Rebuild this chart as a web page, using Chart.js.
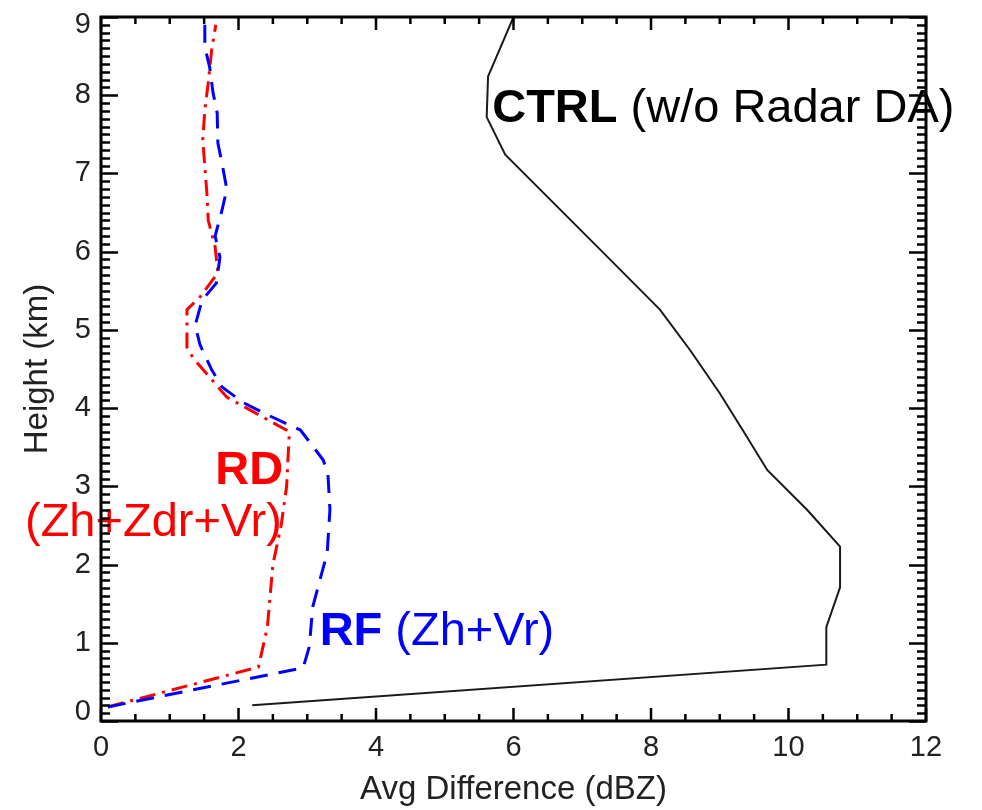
<!DOCTYPE html>
<html>
<head>
<meta charset="utf-8">
<script src="https://cdn.jsdelivr.net/npm/chart.js@4/dist/chart.umd.min.js"></script>
<style>
  html, body { margin: 0; padding: 0; background: #fff; }
</style>
</head>
<body>
<canvas id="c" width="982" height="810"></canvas>
<script>
// ── DATA ────────────────────────────────────────────────────
// CTRL (w/o radar DA): avg difference (dBZ) vs height (km)
const ctrlDiff   = [2.2, 10.55, 10.55, 10.75, 10.75, 10.27, 9.69, 9.34, 9.0, 8.57, 8.13, 7.29, 5.88, 5.61, 5.63, 6.0];
const ctrlHeight = [0.2, 0.72, 1.2, 1.71, 2.23, 2.70, 3.21, 3.71, 4.19, 4.74, 5.26, 6.0, 7.24, 7.72, 8.24, 9.0];

// RF (Zh+Vr)
const rfDiff   = [0.1, 2.94, 3.03, 3.08, 3.29, 3.33, 3.30, 3.23, 2.9, 2.72, 2.36, 2.07, 1.76, 1.61, 1.44, 1.37, 1.47, 1.68, 1.73, 1.66, 1.76, 1.83, 1.76, 1.70, 1.69, 1.63, 1.58, 1.51, 1.51];
const rfHeight = [0.18, 0.68, 0.95, 1.46, 2.15, 2.70, 3.17, 3.34, 3.72, 3.79, 3.94, 4.07, 4.27, 4.49, 4.81, 5.06, 5.38, 5.6, 5.93, 6.2, 6.53, 6.8, 7.13, 7.39, 7.77, 8.03, 8.36, 8.62, 8.96];

// RD (Zh+Zdr+Vr)
const rdDiff   = [0.1, 2.29, 2.42, 2.5, 2.62, 2.7, 2.74, 2.57, 1.83, 1.34, 1.25, 1.25, 1.44, 1.70, 1.66, 1.56, 1.54, 1.48, 1.51, 1.56, 1.61, 1.67];
const rdHeight = [0.18, 0.69, 1.2, 2.0, 2.5, 3.0, 3.7, 3.78, 4.14, 4.64, 4.78, 5.26, 5.42, 5.73, 6.06, 6.4, 6.75, 7.43, 7.81, 8.16, 8.58, 8.9];

const xTicks = [0, 2, 4, 6, 8, 10, 12];
const yTicks = [0, 1, 2, 3, 4, 5, 6, 7, 8, 9];

const FONT = '"Liberation Sans", Arial, Helvetica, sans-serif';

// ── HELPERS ─────────────────────────────────────────────────
function pairs(xs, ys) {
  return xs.map((v, i) => ({ x: v, y: ys[i] }));
}

function drawParts(ctx, x, y, parts, align) {
  // parts: [[text, weight, color], ...]
  let total = 0;
  parts.forEach(p => { ctx.font = p[1] + ' 47px ' + FONT; total += ctx.measureText(p[0]).width; });
  let cx = align === 'right' ? x - total : x;
  ctx.textAlign = 'left';
  ctx.textBaseline = 'alphabetic';
  parts.forEach(p => {
    ctx.font = p[1] + ' 47px ' + FONT;
    ctx.fillStyle = p[2];
    ctx.fillText(p[0], cx, y);
    cx += ctx.measureText(p[0]).width;
  });
}

// ── PLUGIN: IDL style frame, inward ticks, annotations ──────
const idlFrame = {
  id: 'idlFrame',
  beforeDraw(chart) {
    // end labels sit inside the axis range in the original
    const items = chart.scales.y.getLabelItems();
    if (items && !items._nudged && items.length) {
      items[0].options.translation[1] -= 9;
      items[items.length - 1].options.translation[1] += 8;
      items._nudged = true;
    }
  },
  afterDraw(chart) {
    const { ctx, chartArea: a, scales: { x, y } } = chart;
    ctx.save();

    // annotations (value anchored)
    drawParts(ctx, x.getPixelForValue(5.69), y.getPixelForValue(7.66),
      [['CTRL', 'bold', '#000'], [' (w/o Radar DA)', 'normal', '#000']], 'left');
    drawParts(ctx, x.getPixelForValue(2.65), y.getPixelForValue(3.03),
      [['RD', 'bold', '#ff0000']], 'right');
    drawParts(ctx, x.getPixelForValue(2.63), y.getPixelForValue(2.37),
      [['(Zh+Zdr+Vr)', 'normal', '#ff0000']], 'right');
    drawParts(ctx, x.getPixelForValue(3.18), y.getPixelForValue(0.97),
      [['RF', 'bold', '#0000ff'], [' (Zh+Vr)', 'normal', '#0000ff']], 'left');

    // frame
    ctx.strokeStyle = '#000';
    ctx.lineWidth = 3;
    ctx.strokeRect(a.left, a.top, a.right - a.left, a.bottom - a.top);

    // inward ticks
    ctx.lineWidth = 2.5;
    ctx.beginPath();
    for (let i = 0; i <= 24; i++) {
      const v = i * 0.5;
      const px = x.getPixelForValue(v);
      const len = (i % 4 === 0) ? 13 : 7;
      ctx.moveTo(px, a.bottom); ctx.lineTo(px, a.bottom - len);
      ctx.moveTo(px, a.top);    ctx.lineTo(px, a.top + len);
    }
    for (let i = 0; i <= 90; i++) {
      const v = i / 10;
      const py = Math.round(y.getPixelForValue(v)) + 0.5;
      const len = (i % 10 === 0) ? 17 : 9;
      ctx.moveTo(a.left, py);  ctx.lineTo(a.left + len, py);
      ctx.moveTo(a.right, py); ctx.lineTo(a.right - len, py);
    }
    ctx.stroke();
    ctx.restore();
  }
};

// ── CHART ───────────────────────────────────────────────────
new Chart(document.getElementById('c'), {
  type: 'scatter',
  data: {
    datasets: [
      {
        label: 'CTRL (w/o Radar DA)',
        data: pairs(ctrlDiff, ctrlHeight),
        showLine: true, borderColor: '#1a1a1a', borderWidth: 2,
        pointRadius: 0, tension: 0
      },
      {
        label: 'RF (Zh+Vr)',
        data: pairs(rfDiff, rfHeight),
        showLine: true, borderColor: '#0000ff', borderWidth: 3,
        borderDash: [18, 11], pointRadius: 0, tension: 0
      },
      {
        label: 'RD (Zh+Zdr+Vr)',
        data: pairs(rdDiff, rdHeight),
        showLine: true, borderColor: '#ff0000', borderWidth: 3,
        borderDash: [16, 7, 3, 7], pointRadius: 0, tension: 0
      }
    ]
  },
  options: {
    responsive: false,
    animation: false,
    layout: { padding: { top: 17, right: 56, left: 0, bottom: 0 } },
    plugins: { legend: { display: false }, tooltip: { enabled: false } },
    scales: {
      x: {
        type: 'linear', min: 0, max: 12,
        afterBuildTicks: s => { s.ticks = xTicks.map(v => ({ value: v })); },
        afterFit: s => { s.height = 89; s.paddingLeft = 0; s.paddingRight = 0; },
        grid: { display: false, drawTicks: false },
        border: { display: false },
        ticks: { color: '#222', padding: 10, font: { family: FONT, size: 29 }, maxRotation: 0 },
        title: {
          display: true, text: 'Avg Difference (dBZ)', color: '#222',
          font: { family: FONT, size: 33 }, padding: { top: 0, bottom: 0 }
        }
      },
      y: {
        type: 'linear', min: 0, max: 9,
        afterBuildTicks: s => { s.ticks = yTicks.map(v => ({ value: v })); },
        afterFit: s => { s.width = 101; s.paddingTop = 0; s.paddingBottom = 0; },
        grid: { display: false, drawTicks: false },
        border: { display: false },
        ticks: { color: '#222', padding: 10, font: { family: FONT, size: 29 } },
        title: {
          display: true, text: 'Height (km)', color: '#222',
          font: { family: FONT, size: 33 }, padding: { top: 18, bottom: 0 }
        }
      }
    }
  },
  plugins: [idlFrame]
});
</script>
</body>
</html>
